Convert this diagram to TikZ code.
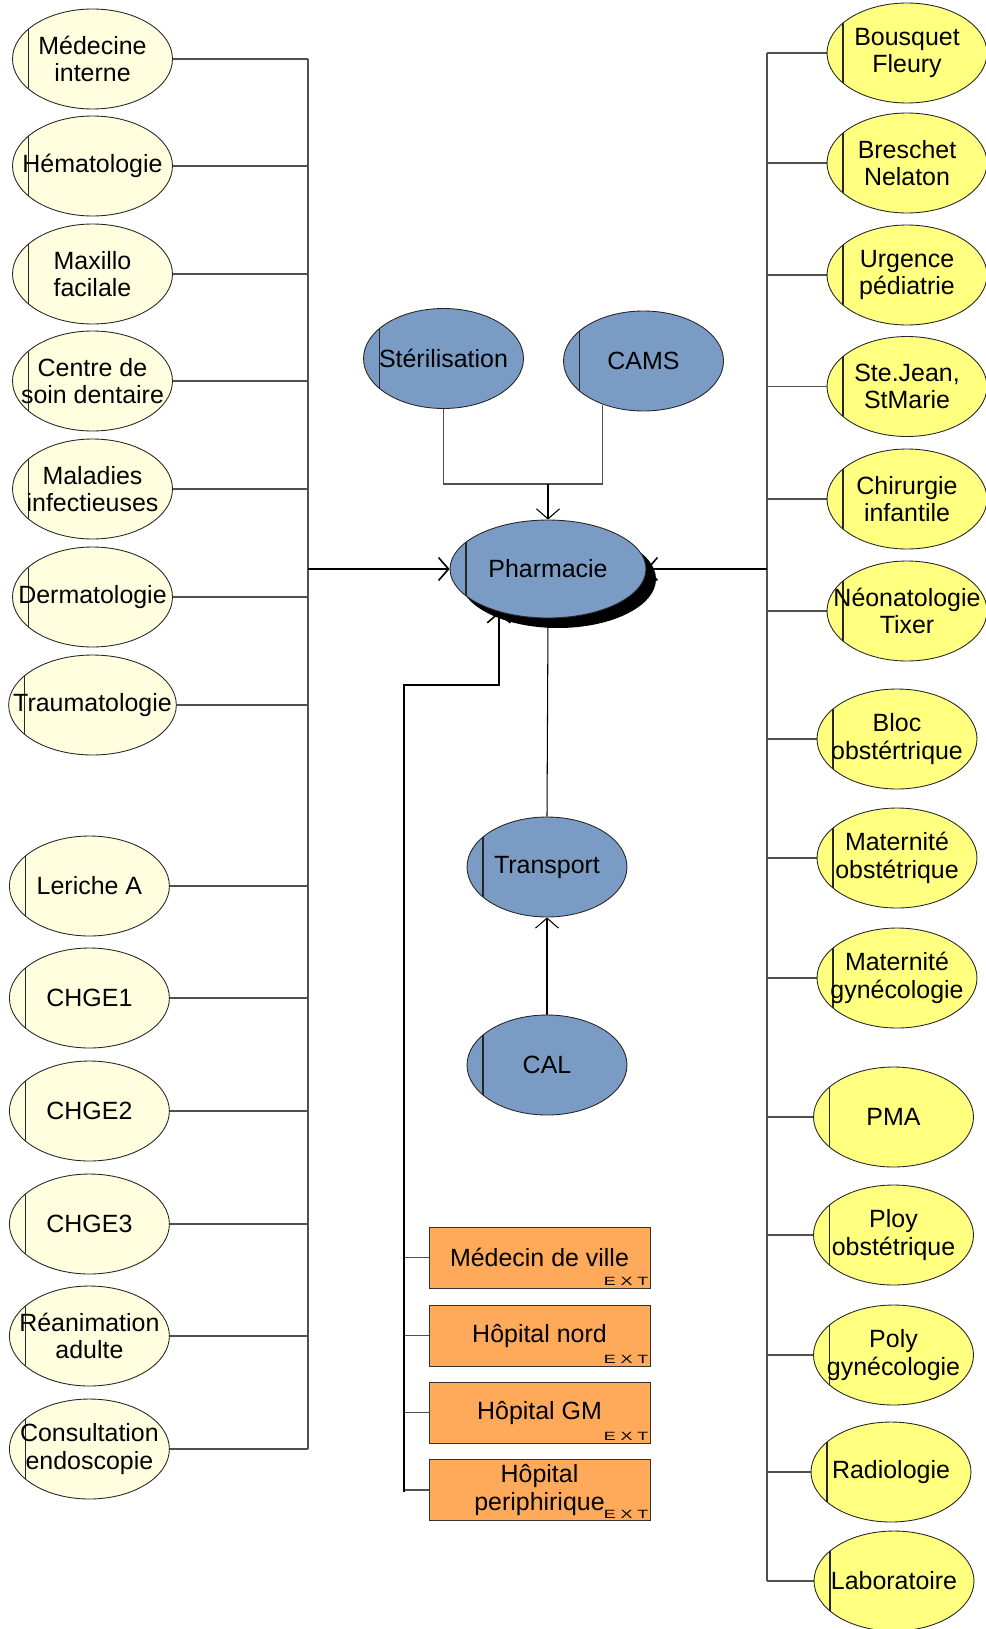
\documentclass[tikz,border=0pt]{standalone}
\usepackage{fontspec}
\setmainfont{Liberation Sans}
\usetikzlibrary{arrows.meta,positioning,shapes.geometric,shadows,backgrounds}
\definecolor{SvcCream}{HTML}{FFFFE0}
\definecolor{SvcYellow}{HTML}{FFFF80}
\definecolor{CoreBlue}{HTML}{7A9CC4}
\definecolor{ExtOrange}{HTML}{FFAA5A}
\definecolor{LinkGray}{HTML}{505050}

\begin{document}
\begin{tikzpicture}[x=0.02cm, y=-0.02cm, every node/.style={font=\fontsize{14.2}{15.8}\selectfont}, ent/.style={ellipse, draw=black!85, line width=0.5pt, minimum width=3.2cm, minimum height=2cm, inner xsep=-0.4cm, inner ysep=0pt, align=center, path picture={\draw[line width=0.6pt] ([xshift=0.32cm]path picture bounding box.north west) -- ([xshift=0.32cm]path picture bounding box.south west);}}, svcl/.style={ent, fill=SvcCream}, svcr/.style={ent, fill=SvcYellow}, core/.style={ent, fill=CoreBlue}, tag/.style={anchor=south east, inner xsep=1pt, inner ysep=1.2pt, font=\fontsize{6.8}{7}\selectfont}, extbox/.style={rectangle, draw=black!80, fill=ExtOrange, line width=0.5pt, minimum width=4.42cm, minimum height=1.22cm, inner sep=1pt, align=center, label={[tag]south east:\scalebox{1.5}[1]{E\hspace{1.8pt}X\hspace{1.8pt}T}}}, link/.style={draw=LinkGray, line width=0.6pt}, arrow/.style={-{Straight Barb[length=0.2cm, width=0.46cm]}, line width=0.9pt}]
\useasboundingbox (0,0) rectangle (986,1629);
% services on the left
\node[svcl] (mi) at (92.5,59) {Médecine\\interne};
\node[svcl] (hema) at (92.5,166) {Hématologie};
\node[svcl] (maxi) at (92.5,274) {Maxillo\\facilale};
\node[svcl] (csd) at (92.5,381) {Centre de\\soin dentaire};
\node[svcl] (mali) at (92.5,489) {Maladies\\infectieuses};
\node[svcl] (derm) at (92.5,597) {Dermatologie};
\node[svcl] (trau) at (92.5,705) {Traumatologie};
\node[svcl] (ler) at (89.4,886) {Leriche A};
\node[svcl] (chgeA) at (89.4,998) {CHGE1};
\node[svcl] (chgeB) at (89.4,1111) {CHGE2};
\node[svcl] (chgeC) at (89.4,1224) {CHGE3};
\node[svcl] (rea) at (89.4,1336) {Réanimation\\adulte};
\node[svcl] (cons) at (89.4,1449) {Consultation\\endoscopie};
% services on the right
\node[svcr] (bf) at (907,53) {Bousquet\\Fleury};
\node[svcr] (bn) at (907,163) {Breschet\\Nelaton};
\node[svcr] (urg) at (907,275) {Urgence\\pédiatrie};
\node[svcr] (sjm) at (907,386.5) {Ste.Jean,\\StMarie};
\node[svcr] (chi) at (907,499) {Chirurgie\\infantile};
\node[svcr] (neo) at (907,611) {Néonatologie\\Tixer};
\node[svcr] (bloc) at (897,739) {Bloc\\obstértrique};
\node[svcr] (mobs) at (897,858) {Maternité\\obstétrique};
\node[svcr] (mgyn) at (897,978) {Maternité\\gynécologie};
\node[svcr] (pma) at (893.5,1117) {PMA};
\node[svcr] (pobs) at (893.5,1235) {Ploy\\obstétrique};
\node[svcr] (pgyn) at (893.5,1355) {Poly\\gynécologie};
\node[svcr] (radio) at (891,1472) {Radiologie};
\node[svcr] (labo) at (894,1581) {Laboratoire};
% centre
\node[core] (st) at (443.5,358.5) {Stérilisation};
\node[core] (cams) at (643.5,361) {CAMS};
\node[core, minimum width=3.92cm, minimum height=1.96cm, drop shadow={shadow xshift=0.2cm, shadow yshift=-0.2cm, fill=black, opacity=1}] (ph) at (548,569) {Pharmacie};
\node[core] (tr) at (547,867) {Transport};
\node[core] (cal) at (547,1065) {CAL};
% external
\node[extbox] (md) at (539.5,1257.5) {Médecin de ville};
\node[extbox] (hn) at (539.5,1335.5) {Hôpital nord};
\node[extbox] (hgm) at (539.5,1412.5) {Hôpital GM};
\node[extbox] (hp) at (539.5,1490) {Hôpital\\periphirique};
\begin{scope}[on background layer]
\coordinate (lt) at (308,59); \coordinate (lm) at (308,569); \coordinate (lb) at (308,1449);
\coordinate (rt) at (767,53); \coordinate (rm) at (767,569); \coordinate (rb) at (767,1581);
\coordinate (xt) at (404,685); \coordinate (xb) at (404,1492);
\coordinate (jn) at (548,484);
\draw[link] (lt) -- (lb); \draw[link] (rt) -- (rb);
\foreach \n in {mi,hema,maxi,csd,mali,derm,trau,ler,chgeA,chgeB,chgeC,rea,cons} \draw[link] (\n.east) -- (\n.east -| lt);
\foreach \n in {bf,bn,urg,sjm,chi,neo,bloc,mobs,mgyn,pma,pobs,pgyn,radio,labo} \draw[link] (\n.west) -- (\n.west -| rt);
\foreach \n in {md,hn,hgm,hp} \draw[link] (\n.west) -- (\n.west -| xt);
\draw[arrow] (lm) -- (ph.west); \draw[arrow] (rm) -- (ph.east);
\draw[link] (st.south) |- (jn); \draw[link] (cams.227) |- (jn); \draw[arrow, line width=0.6pt] (jn) -- (ph.north);
\draw[arrow] (xb) -- (xt) -| (ph.221);
\draw[link, draw=black] (ph.south) -- (tr.north);
\draw[arrow, line width=0.6pt] (cal.north) -- (tr.south);
\end{scope}
\end{tikzpicture}
\end{document}
